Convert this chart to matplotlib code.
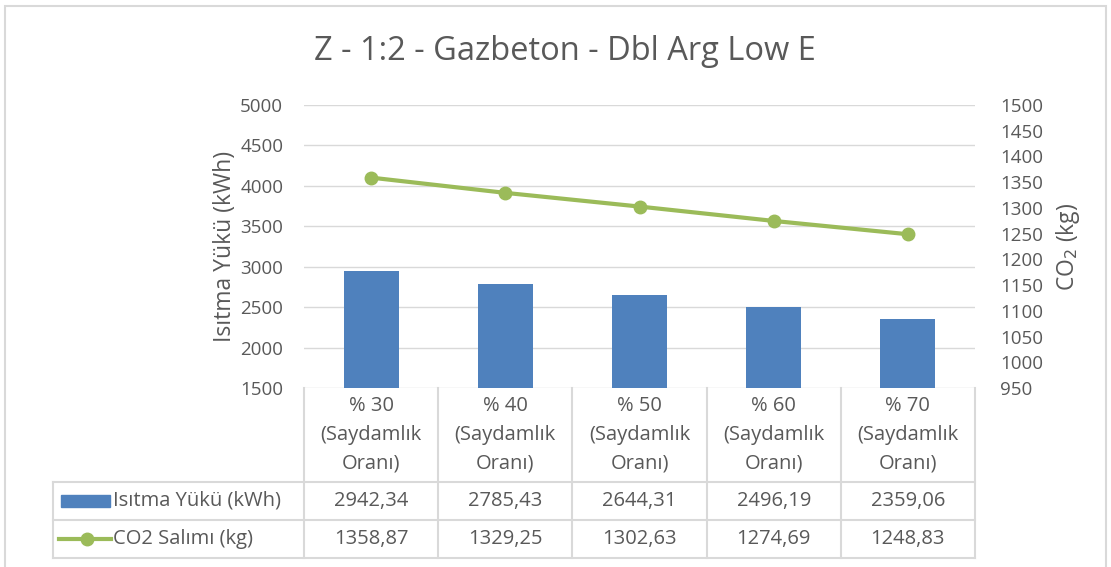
import matplotlib
matplotlib.use("Agg")
import matplotlib.pyplot as plt
from matplotlib.transforms import blended_transform_factory
from matplotlib.lines import Line2D
from matplotlib.patches import Rectangle

plt.rcParams['font.family'] = ['Open Sans', 'DejaVu Sans']

categories = ['% 30\n(Saydamlık\nOranı)', '% 40\n(Saydamlık\nOranı)', '% 50\n(Saydamlık\nOranı)',
              '% 60\n(Saydamlık\nOranı)', '% 70\n(Saydamlık\nOranı)']
heating = [2942.34, 2785.43, 2644.31, 2496.19, 2359.06]
co2 = [1358.87, 1329.25, 1302.63, 1274.69, 1248.83]
heating_labels = ['2942,34', '2785,43', '2644,31', '2496,19', '2359,06']
co2_labels = ['1358,87', '1329,25', '1302,63', '1274,69', '1248,83']

BLUE = '#4F81BD'
GREEN = '#9BBB59'
TXT = '#595959'
GRID = '#D9D9D9'
FS = 14.5

fig = plt.figure(figsize=(11.11, 5.67), dpi=100)
ax = fig.add_axes([304 / 1111, 1 - 388 / 567, (975 - 304) / 1111, (388 - 105) / 567])
x = list(range(len(categories)))

ax.bar(x, heating, width=0.41, color=BLUE, zorder=2)
ax.set_xlim(-0.5, len(categories) - 0.5)
ax.set_ylim(1500, 5000)
ax.set_yticks(range(1500, 5001, 500))
ax.grid(axis='y', color=GRID, linewidth=1, zorder=0)
ax.set_xticks([])
for s in ax.spines.values():
    s.set_visible(False)
ax.tick_params(axis='y', length=0, labelsize=13.5, labelcolor=TXT, pad=15)
ax.set_ylabel('Isıtma Yükü (kWh)', fontsize=16.5, color=TXT, labelpad=2)

ax2 = ax.twinx()
ax2.plot(x, co2, color=GREEN, linewidth=3, marker='o', markersize=9, zorder=3)
ax2.set_ylim(950, 1500)
ax2.set_yticks(range(950, 1501, 50))
for s in ax2.spines.values():
    s.set_visible(False)
ax2.tick_params(axis='y', length=0, labelsize=13.5, labelcolor=TXT, pad=18)
ax2.set_ylabel('CO$_2$ (kg)', fontsize=16.5, color=TXT, labelpad=8)

# data table below the plot
tr = blended_transform_factory(ax.transData, ax.transAxes)
h = 283.0
y_head = (388 - 482) / h
y_r1 = (388 - 520) / h
y_r2 = (388 - 558) / h
left_ax = (53 - 304) / (975 - 304)
tra = ax.transAxes
lk = dict(color=GRID, linewidth=1.5, clip_on=False)

n = len(categories)
for i in range(n + 1):
    ax.add_line(Line2D([i - 0.5, i - 0.5], [0, y_r2], transform=tr, **lk))
ax.add_line(Line2D([left_ax, 1], [y_head, y_head], transform=tra, **lk))
ax.add_line(Line2D([left_ax, 1], [y_r1, y_r1], transform=tra, **lk))
ax.add_line(Line2D([left_ax, 1], [y_r2, y_r2], transform=tra, **lk))
ax.add_line(Line2D([left_ax, left_ax], [y_head, y_r2], transform=tra, **lk))

for i in x:
    ax.text(i, y_head / 2, categories[i], transform=tr, ha='center', va='center',
            fontsize=FS, color=TXT, linespacing=1.6)
    ax.text(i, (y_head + y_r1) / 2, heating_labels[i], transform=tr, ha='center',
            va='center', fontsize=FS, color=TXT)
    ax.text(i, (y_r1 + y_r2) / 2, co2_labels[i], transform=tr, ha='center',
            va='center', fontsize=FS, color=TXT)

def fx(px):
    return (px - 304) / (975 - 304)

ym1 = (y_head + y_r1) / 2
ym2 = (y_r1 + y_r2) / 2
ax.add_patch(Rectangle((fx(61), ym1 - 6 / h), fx(110) - fx(61), 12 / h, transform=tra,
                       color=BLUE, clip_on=False))
ax.add_line(Line2D([fx(59), fx(111)], [ym2, ym2], transform=tra, color=GREEN,
                   linewidth=3, clip_on=False))
ax.add_line(Line2D([fx(87)], [ym2], transform=tra, color=GREEN, marker='o',
                   markersize=9, clip_on=False))
ax.text(fx(113), ym1, 'Isıtma Yükü (kWh)', transform=tra, ha='left', va='center',
        fontsize=FS, color=TXT)
ax.text(fx(113), ym2, 'CO2 Salımı (kg)', transform=tra, ha='left', va='center',
        fontsize=FS, color=TXT)

fig.text(565 / 1111, 1 - 51 / 567, 'Z - 1:2 - Gazbeton - Dbl Arg Low E', ha='center',
         va='center', fontsize=23.5, color=TXT)

fig.add_artist(Rectangle((5 / 1111, -0.1), 1101 / 1111, 1.1 - 6 / 567,
                         transform=fig.transFigure, fill=False, edgecolor=GRID,
                         linewidth=1.5))

fig.savefig('out.png', dpi=100)
